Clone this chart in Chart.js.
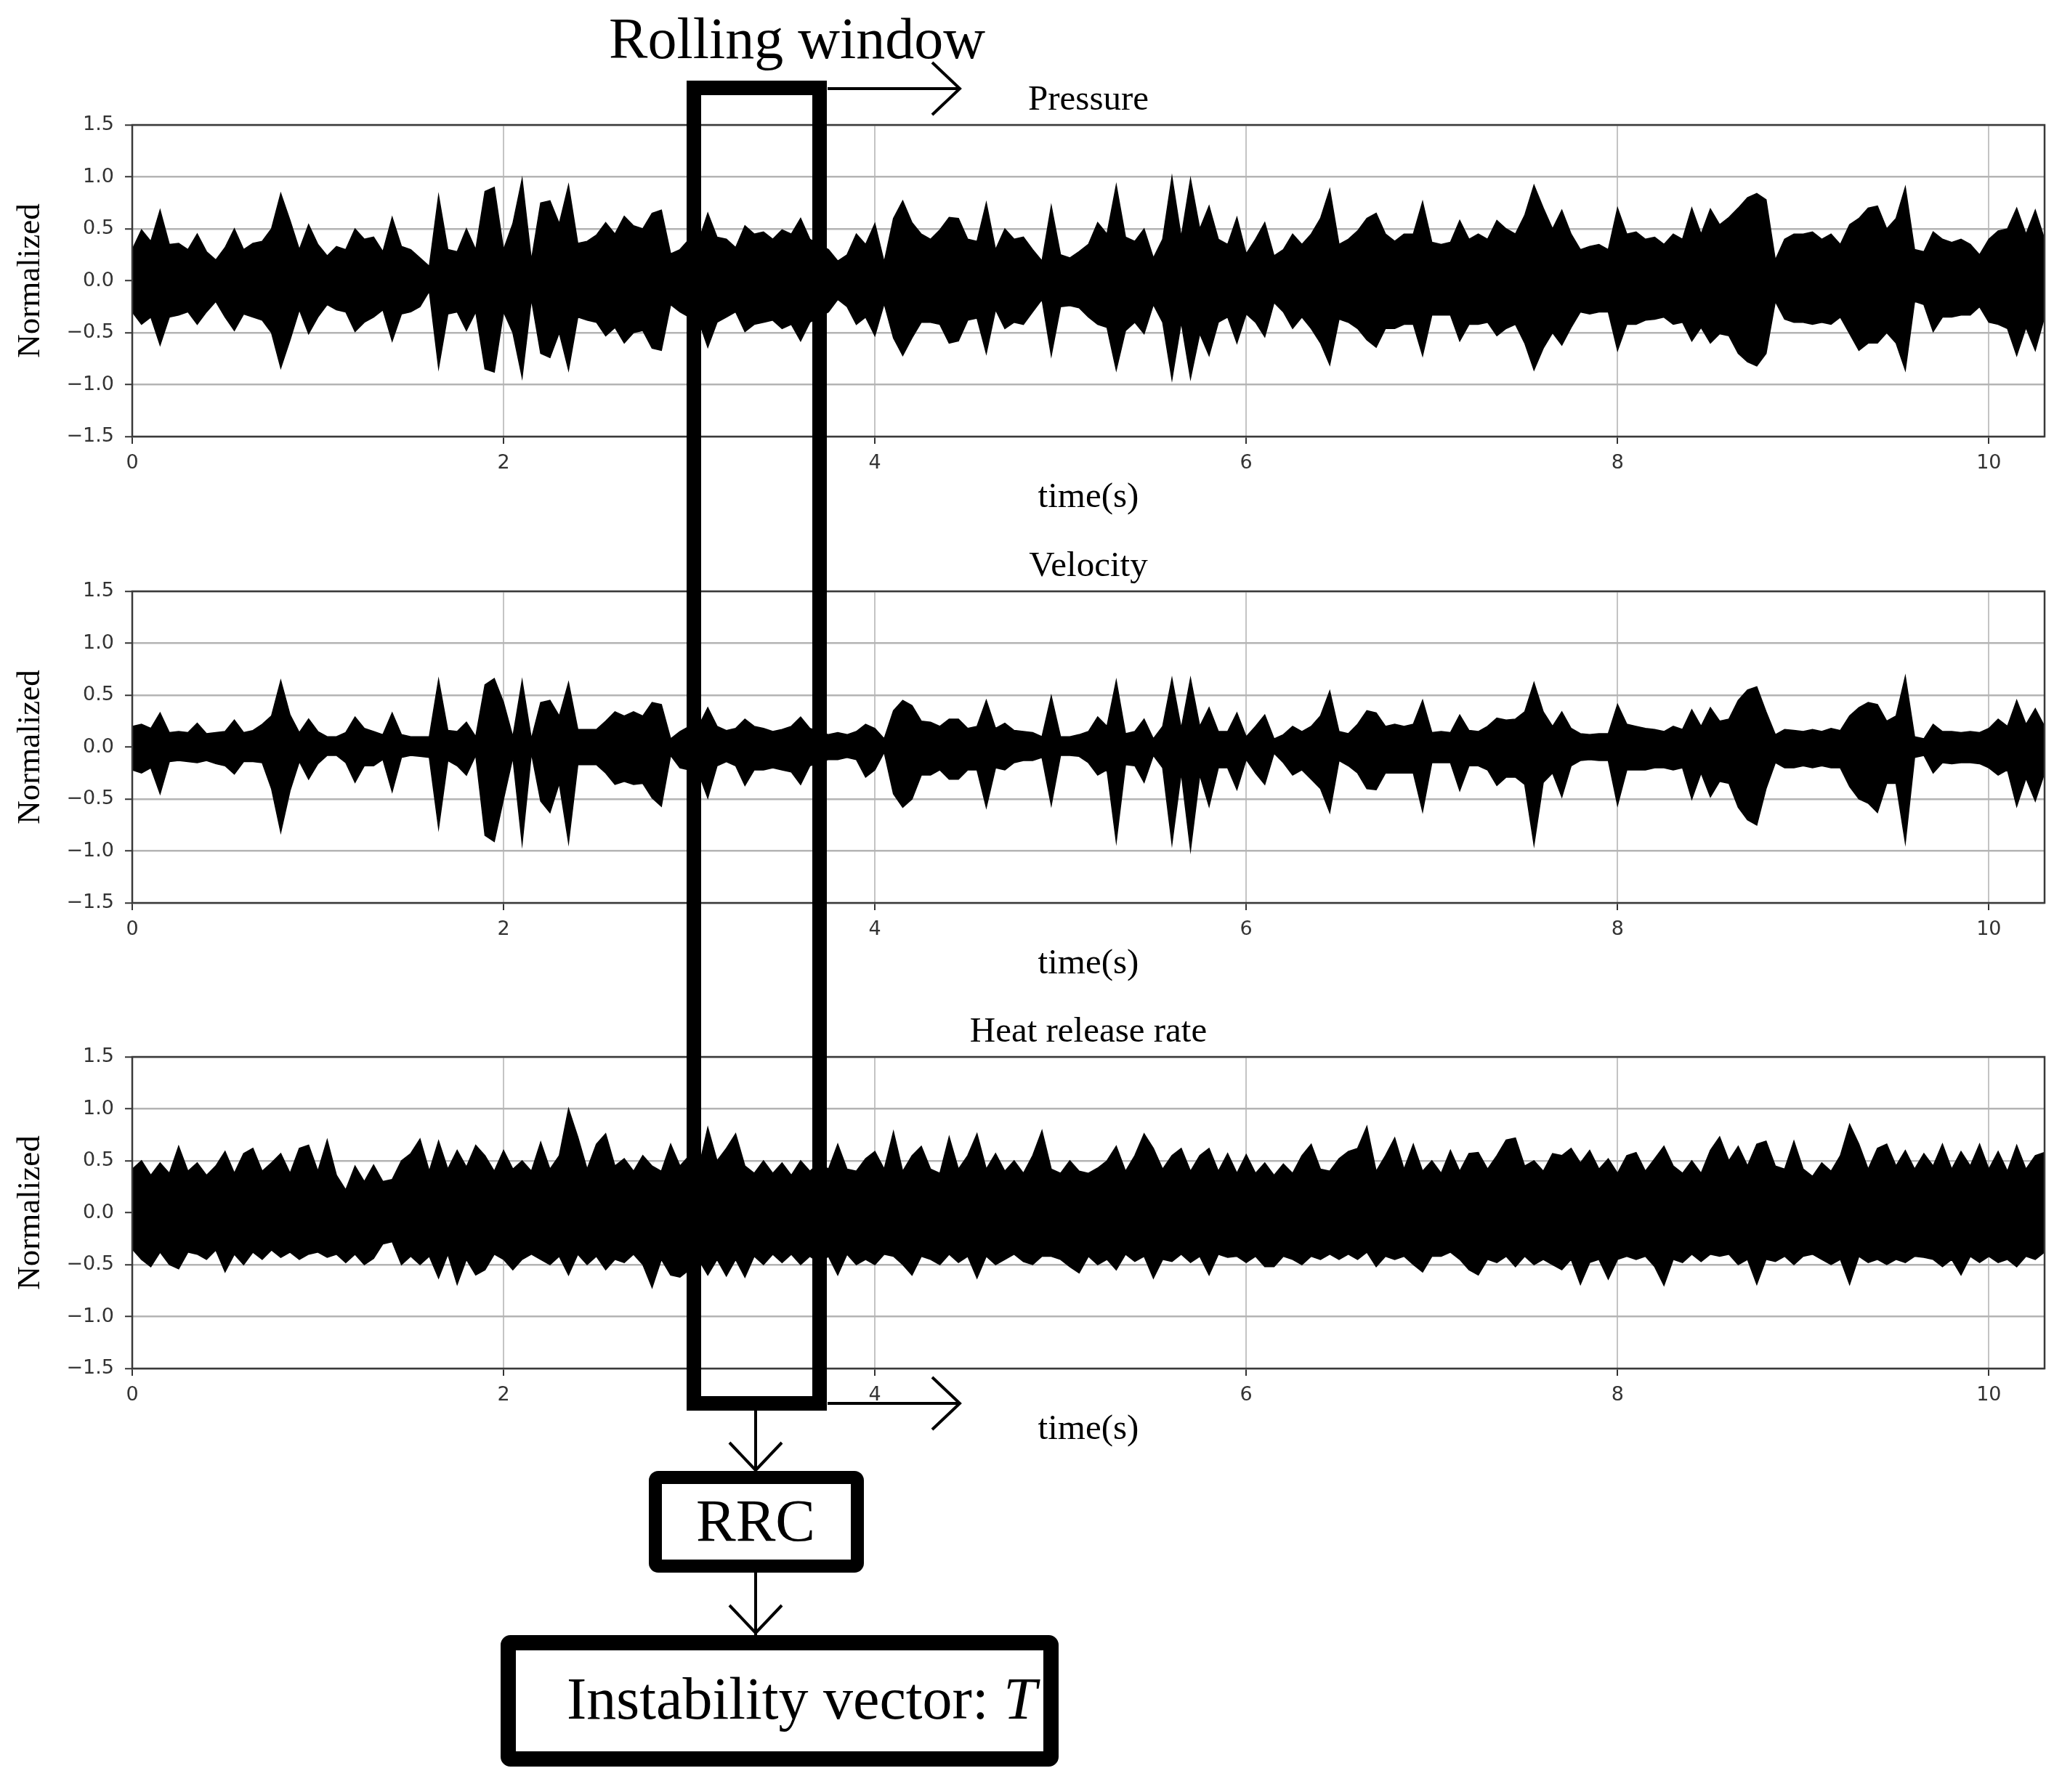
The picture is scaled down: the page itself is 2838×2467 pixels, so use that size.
<!DOCTYPE html>
<html>
<head>
<meta charset="utf-8">
<title>Rolling window over normalized signals</title>
<script src="https://cdn.jsdelivr.net/npm/chart.js@4.4.1/dist/chart.umd.min.js"></script>
<style>
  html, body { margin: 0; padding: 0; background: #fff; }
  #page { position: relative; width: 2838px; height: 2467px; overflow: hidden; background: #fff; }
  #page canvas { position: absolute; left: 0; }
  #diagram { position: absolute; left: 0; top: 0; z-index: 5; pointer-events: none; }
</style>
</head>
<body>
<div id="page">
  <canvas id="pressureChart" width="2838" height="647" style="top:72px"></canvas>
  <canvas id="velocityChart" width="2838" height="647" style="top:714px"></canvas>
  <canvas id="heatChart" width="2838" height="647" style="top:1355px"></canvas>

  <svg id="diagram" width="2838" height="2467" xmlns="http://www.w3.org/2000/svg">
    <g fill="none" stroke="#000">
      <!-- rolling window -->
      <rect x="955" y="121" width="173" height="1811" stroke-width="20"/>
      <path d="M1139 122 H1321" stroke-width="4"/>
      <path d="M1283 86 L1321 122 L1283 158" stroke-width="4"/>
      <path d="M1139 1932 H1321" stroke-width="4"/>
      <path d="M1283 1896 L1321 1932 L1283 1968" stroke-width="4"/>
      <!-- window -> RRC -> instability vector -->
      <path d="M1040 1942 V2025" stroke-width="4"/>
      <path d="M1004 1986 L1040 2024 L1076 1986" stroke-width="4"/>
      <rect x="902" y="2034" width="278" height="122" rx="4" stroke-width="18"/>
      <path d="M1040 2165 V2251" stroke-width="4"/>
      <path d="M1004 2210 L1040 2248 L1076 2210" stroke-width="4"/>
      <rect x="699.5" y="2261.5" width="747" height="160" rx="3" stroke-width="21"/>
    </g>
    <g font-family="'Liberation Serif', 'DejaVu Serif', serif" fill="#000">
      <text x="1097" y="80" font-size="80" text-anchor="middle">Rolling window</text>
      <text x="1040" y="2121" font-size="82" text-anchor="middle">RRC</text>
      <text x="780" y="2366" font-size="82">Instability vector: <tspan font-style="italic">T</tspan></text>
    </g>
  </svg>
</div>

<script>
// ── time axis (s), one sample every 0.05 s ──
const TIME = [
  0, 0.05, 0.1, 0.15, 0.2, 0.25, 0.3, 0.35, 0.4, 0.45, 0.5, 0.55, 0.6, 0.65, 0.7, 0.75, 0.8, 0.85, 0.9, 0.95,
  1, 1.05, 1.1, 1.15, 1.2, 1.25, 1.3, 1.35, 1.4, 1.45, 1.5, 1.55, 1.6, 1.65, 1.7, 1.75, 1.8, 1.85, 1.9, 1.95,
  2, 2.05, 2.1, 2.15, 2.2, 2.25, 2.3, 2.35, 2.4, 2.45, 2.5, 2.55, 2.6, 2.65, 2.7, 2.75, 2.8, 2.85, 2.9, 2.95,
  3, 3.05, 3.1, 3.15, 3.2, 3.25, 3.3, 3.35, 3.4, 3.45, 3.5, 3.55, 3.6, 3.65, 3.7, 3.75, 3.8, 3.85, 3.9, 3.95,
  4, 4.05, 4.1, 4.15, 4.2, 4.25, 4.3, 4.35, 4.4, 4.45, 4.5, 4.55, 4.6, 4.65, 4.7, 4.75, 4.8, 4.85, 4.9, 4.95,
  5, 5.05, 5.1, 5.15, 5.2, 5.25, 5.3, 5.35, 5.4, 5.45, 5.5, 5.55, 5.6, 5.65, 5.7, 5.75, 5.8, 5.85, 5.9, 5.95,
  6, 6.05, 6.1, 6.15, 6.2, 6.25, 6.3, 6.35, 6.4, 6.45, 6.5, 6.55, 6.6, 6.65, 6.7, 6.75, 6.8, 6.85, 6.9, 6.95,
  7, 7.05, 7.1, 7.15, 7.2, 7.25, 7.3, 7.35, 7.4, 7.45, 7.5, 7.55, 7.6, 7.65, 7.7, 7.75, 7.8, 7.85, 7.9, 7.95,
  8, 8.05, 8.1, 8.15, 8.2, 8.25, 8.3, 8.35, 8.4, 8.45, 8.5, 8.55, 8.6, 8.65, 8.7, 8.75, 8.8, 8.85, 8.9, 8.95,
  9, 9.05, 9.1, 9.15, 9.2, 9.25, 9.3, 9.35, 9.4, 9.45, 9.5, 9.55, 9.6, 9.65, 9.7, 9.75, 9.8, 9.85, 9.9, 9.95,
  10, 10.05, 10.1, 10.15, 10.2, 10.25, 10.3
];

const X_TICKS = [0, 2, 4, 6, 8, 10];
const Y_TICKS = [-1.5, -1.0, -0.5, 0.0, 0.5, 1.0, 1.5];

// Pressure: upper / lower edge of the oscillation
const PRESSURE_HI = [
  0.30,0.49,0.38,0.68,0.35,0.36,0.30,0.45,0.28,0.20,0.32,0.50,0.30,0.36,0.38,0.50,0.84,0.58,0.30,0.54,
  0.35,0.24,0.33,0.30,0.50,0.40,0.42,0.28,0.61,0.33,0.30,0.22,0.14,0.82,0.30,0.28,0.50,0.30,0.86,0.90,
  0.30,0.55,0.98,0.20,0.75,0.77,0.55,0.92,0.36,0.38,0.44,0.56,0.45,0.62,0.53,0.50,0.65,0.68,0.26,0.30,
  0.40,0.38,0.65,0.42,0.40,0.32,0.53,0.45,0.47,0.40,0.49,0.45,0.60,0.40,0.35,0.30,0.19,0.25,0.45,0.35,
  0.55,0.18,0.60,0.77,0.56,0.45,0.40,0.49,0.61,0.60,0.40,0.38,0.75,0.30,0.50,0.40,0.42,0.30,0.19,0.72,
  0.25,0.22,0.28,0.35,0.56,0.45,0.92,0.42,0.38,0.50,0.22,0.40,1.00,0.42,0.98,0.50,0.72,0.40,0.35,0.61,
  0.26,0.40,0.56,0.24,0.30,0.45,0.35,0.45,0.60,0.88,0.35,0.40,0.48,0.60,0.65,0.45,0.38,0.45,0.45,0.76,
  0.37,0.35,0.37,0.58,0.40,0.45,0.40,0.58,0.50,0.45,0.63,0.92,0.70,0.50,0.68,0.45,0.30,0.33,0.35,0.30,
  0.70,0.45,0.47,0.40,0.42,0.35,0.45,0.40,0.70,0.45,0.69,0.54,0.61,0.70,0.80,0.84,0.78,0.20,0.40,0.45,
  0.45,0.47,0.40,0.45,0.35,0.54,0.60,0.70,0.72,0.50,0.60,0.90,0.30,0.28,0.47,0.40,0.37,0.40,0.35,0.25,
  0.40,0.48,0.50,0.70,0.45,0.68,0.40
];
const PRESSURE_LO = [
  -0.30,-0.42,-0.35,-0.62,-0.35,-0.33,-0.30,-0.42,-0.30,-0.20,-0.35,-0.48,-0.32,-0.35,-0.38,-0.50,-0.84,-0.57,-0.28,-0.51,
  -0.35,-0.23,-0.28,-0.30,-0.49,-0.40,-0.35,-0.28,-0.58,-0.32,-0.30,-0.25,-0.10,-0.84,-0.32,-0.30,-0.48,-0.30,-0.85,-0.88,
  -0.30,-0.50,-0.93,-0.18,-0.70,-0.74,-0.50,-0.86,-0.35,-0.38,-0.40,-0.53,-0.45,-0.60,-0.50,-0.48,-0.65,-0.67,-0.23,-0.30,
  -0.35,-0.38,-0.64,-0.40,-0.35,-0.30,-0.49,-0.42,-0.40,-0.38,-0.46,-0.42,-0.58,-0.40,-0.35,-0.30,-0.18,-0.25,-0.42,-0.35,
  -0.53,-0.22,-0.55,-0.72,-0.55,-0.40,-0.40,-0.42,-0.60,-0.58,-0.38,-0.36,-0.70,-0.28,-0.46,-0.40,-0.42,-0.30,-0.18,-0.72,
  -0.25,-0.24,-0.26,-0.35,-0.42,-0.45,-0.86,-0.48,-0.40,-0.51,-0.23,-0.40,-0.95,-0.40,-0.94,-0.51,-0.72,-0.40,-0.35,-0.60,
  -0.32,-0.40,-0.54,-0.21,-0.30,-0.46,-0.35,-0.46,-0.60,-0.81,-0.37,-0.40,-0.46,-0.57,-0.64,-0.46,-0.46,-0.42,-0.42,-0.72,
  -0.33,-0.33,-0.33,-0.58,-0.42,-0.42,-0.40,-0.53,-0.46,-0.42,-0.60,-0.86,-0.65,-0.50,-0.62,-0.45,-0.30,-0.32,-0.30,-0.30,
  -0.67,-0.42,-0.42,-0.38,-0.37,-0.35,-0.42,-0.40,-0.58,-0.45,-0.60,-0.51,-0.53,-0.70,-0.78,-0.82,-0.70,-0.20,-0.37,-0.40,
  -0.40,-0.42,-0.40,-0.42,-0.35,-0.51,-0.67,-0.60,-0.60,-0.50,-0.60,-0.86,-0.20,-0.23,-0.49,-0.35,-0.35,-0.33,-0.33,-0.25,
  -0.40,-0.42,-0.46,-0.72,-0.45,-0.67,-0.35
];

// Velocity
const VELOCITY_HI = [
  0.20,0.22,0.18,0.33,0.14,0.15,0.14,0.23,0.13,0.14,0.15,0.26,0.14,0.16,0.22,0.30,0.64,0.31,0.14,0.27,
  0.15,0.10,0.10,0.14,0.29,0.18,0.15,0.12,0.33,0.12,0.10,0.10,0.10,0.65,0.16,0.15,0.24,0.10,0.60,0.66,
  0.43,0.10,0.64,0.08,0.43,0.45,0.30,0.62,0.17,0.17,0.17,0.25,0.34,0.30,0.34,0.30,0.43,0.41,0.08,0.15,
  0.20,0.20,0.38,0.20,0.16,0.18,0.27,0.20,0.18,0.15,0.17,0.20,0.29,0.18,0.15,0.12,0.14,0.12,0.15,0.22,
  0.18,0.08,0.35,0.45,0.40,0.25,0.24,0.20,0.27,0.27,0.18,0.20,0.45,0.18,0.23,0.16,0.15,0.14,0.10,0.49,
  0.10,0.10,0.12,0.15,0.29,0.20,0.64,0.13,0.15,0.27,0.08,0.20,0.66,0.18,0.66,0.20,0.38,0.15,0.15,0.33,
  0.10,0.20,0.31,0.08,0.12,0.20,0.15,0.20,0.30,0.54,0.15,0.13,0.22,0.35,0.33,0.20,0.22,0.20,0.22,0.45,
  0.14,0.15,0.14,0.31,0.16,0.15,0.20,0.28,0.26,0.27,0.34,0.62,0.34,0.20,0.34,0.18,0.13,0.12,0.13,0.13,
  0.41,0.22,0.20,0.18,0.17,0.15,0.20,0.17,0.36,0.20,0.38,0.25,0.27,0.45,0.55,0.58,0.34,0.12,0.17,0.16,
  0.15,0.17,0.15,0.18,0.16,0.30,0.38,0.43,0.41,0.25,0.30,0.68,0.10,0.08,0.22,0.15,0.15,0.14,0.15,0.14,
  0.18,0.27,0.20,0.45,0.22,0.37,0.20
];
const VELOCITY_LO = [
  -0.22,-0.25,-0.20,-0.45,-0.14,-0.13,-0.14,-0.15,-0.13,-0.16,-0.18,-0.26,-0.14,-0.14,-0.15,-0.40,-0.82,-0.42,-0.14,-0.31,
  -0.16,-0.08,-0.08,-0.15,-0.34,-0.18,-0.18,-0.12,-0.43,-0.10,-0.08,-0.09,-0.10,-0.78,-0.13,-0.18,-0.27,-0.08,-0.85,-0.91,
  -0.50,-0.10,-0.93,-0.06,-0.52,-0.63,-0.35,-0.92,-0.17,-0.17,-0.17,-0.25,-0.36,-0.33,-0.36,-0.35,-0.49,-0.57,-0.08,-0.20,
  -0.22,-0.25,-0.49,-0.18,-0.14,-0.18,-0.37,-0.22,-0.22,-0.20,-0.22,-0.24,-0.36,-0.18,-0.15,-0.12,-0.12,-0.10,-0.12,-0.29,
  -0.22,-0.05,-0.45,-0.58,-0.50,-0.27,-0.27,-0.22,-0.31,-0.31,-0.22,-0.22,-0.58,-0.20,-0.22,-0.15,-0.13,-0.13,-0.10,-0.56,
  -0.08,-0.08,-0.09,-0.15,-0.27,-0.22,-0.91,-0.17,-0.18,-0.34,-0.08,-0.20,-0.93,-0.25,-0.99,-0.27,-0.57,-0.20,-0.20,-0.41,
  -0.12,-0.25,-0.36,-0.06,-0.15,-0.27,-0.22,-0.31,-0.40,-0.63,-0.13,-0.18,-0.25,-0.40,-0.41,-0.25,-0.25,-0.25,-0.25,-0.62,
  -0.15,-0.15,-0.15,-0.42,-0.18,-0.18,-0.22,-0.37,-0.29,-0.29,-0.36,-0.94,-0.34,-0.25,-0.48,-0.18,-0.13,-0.12,-0.13,-0.13,
  -0.56,-0.22,-0.22,-0.22,-0.20,-0.20,-0.22,-0.20,-0.50,-0.25,-0.48,-0.33,-0.35,-0.58,-0.70,-0.75,-0.40,-0.15,-0.20,-0.20,
  -0.18,-0.20,-0.18,-0.20,-0.20,-0.38,-0.50,-0.54,-0.63,-0.35,-0.35,-0.92,-0.10,-0.08,-0.25,-0.15,-0.16,-0.15,-0.15,-0.16,
  -0.20,-0.27,-0.22,-0.57,-0.30,-0.52,-0.25
];

// Heat release rate
const HEAT_HI = [
  0.42,0.50,0.36,0.48,0.38,0.64,0.40,0.48,0.36,0.45,0.59,0.38,0.57,0.62,0.40,0.48,0.57,0.38,0.62,0.65,
  0.40,0.70,0.36,0.22,0.45,0.30,0.46,0.30,0.32,0.50,0.57,0.71,0.40,0.69,0.42,0.60,0.44,0.65,0.55,0.40,
  0.60,0.42,0.50,0.40,0.68,0.42,0.55,1.00,0.73,0.42,0.66,0.76,0.45,0.52,0.40,0.55,0.45,0.40,0.66,0.45,
  0.55,0.42,0.82,0.50,0.62,0.76,0.45,0.38,0.50,0.38,0.48,0.36,0.50,0.40,0.48,0.42,0.66,0.42,0.40,0.52,
  0.59,0.42,0.78,0.40,0.55,0.64,0.42,0.38,0.73,0.42,0.55,0.76,0.42,0.57,0.40,0.50,0.38,0.55,0.79,0.42,
  0.38,0.50,0.40,0.38,0.43,0.50,0.64,0.40,0.55,0.76,0.62,0.42,0.55,0.62,0.40,0.55,0.62,0.40,0.57,0.38,
  0.56,0.38,0.48,0.36,0.47,0.38,0.55,0.66,0.42,0.40,0.52,0.59,0.62,0.83,0.40,0.55,0.72,0.42,0.66,0.40,
  0.50,0.38,0.60,0.40,0.57,0.58,0.42,0.55,0.70,0.72,0.45,0.50,0.40,0.57,0.55,0.62,0.48,0.60,0.42,0.52,
  0.38,0.55,0.58,0.40,0.52,0.64,0.45,0.38,0.50,0.38,0.60,0.73,0.50,0.64,0.45,0.66,0.69,0.45,0.42,0.69,
  0.42,0.35,0.48,0.40,0.55,0.85,0.66,0.42,0.62,0.66,0.45,0.60,0.42,0.57,0.45,0.66,0.42,0.59,0.45,0.66,
  0.42,0.59,0.40,0.65,0.42,0.55,0.58
];
const HEAT_LO = [
  -0.35,-0.45,-0.52,-0.38,-0.50,-0.54,-0.38,-0.40,-0.45,-0.36,-0.57,-0.40,-0.50,-0.38,-0.45,-0.36,-0.43,-0.38,-0.45,-0.40,
  -0.38,-0.43,-0.40,-0.48,-0.40,-0.50,-0.44,-0.30,-0.28,-0.50,-0.42,-0.50,-0.42,-0.63,-0.40,-0.69,-0.45,-0.60,-0.55,-0.40,
  -0.45,-0.55,-0.45,-0.40,-0.45,-0.50,-0.42,-0.60,-0.40,-0.50,-0.42,-0.55,-0.45,-0.48,-0.40,-0.50,-0.72,-0.45,-0.60,-0.62,
  -0.55,-0.45,-0.60,-0.45,-0.61,-0.45,-0.62,-0.42,-0.50,-0.40,-0.48,-0.40,-0.50,-0.42,-0.48,-0.42,-0.60,-0.40,-0.50,-0.45,
  -0.50,-0.40,-0.42,-0.50,-0.60,-0.42,-0.45,-0.50,-0.40,-0.48,-0.42,-0.63,-0.42,-0.50,-0.45,-0.40,-0.47,-0.50,-0.42,-0.42,
  -0.45,-0.52,-0.58,-0.42,-0.50,-0.45,-0.55,-0.40,-0.47,-0.42,-0.63,-0.45,-0.47,-0.40,-0.48,-0.42,-0.60,-0.40,-0.43,-0.42,
  -0.48,-0.42,-0.52,-0.52,-0.42,-0.45,-0.50,-0.42,-0.45,-0.40,-0.45,-0.40,-0.45,-0.38,-0.52,-0.42,-0.45,-0.42,-0.50,-0.57,
  -0.42,-0.42,-0.38,-0.45,-0.55,-0.60,-0.45,-0.48,-0.42,-0.52,-0.42,-0.50,-0.45,-0.50,-0.55,-0.45,-0.69,-0.48,-0.45,-0.64,
  -0.45,-0.42,-0.45,-0.42,-0.52,-0.70,-0.45,-0.48,-0.40,-0.47,-0.40,-0.42,-0.40,-0.50,-0.45,-0.69,-0.45,-0.47,-0.42,-0.50,
  -0.42,-0.40,-0.45,-0.50,-0.45,-0.69,-0.42,-0.48,-0.45,-0.50,-0.45,-0.48,-0.42,-0.43,-0.45,-0.52,-0.45,-0.60,-0.42,-0.48,
  -0.42,-0.48,-0.45,-0.52,-0.42,-0.45,-0.38
];

const X_MAX = 10.3;
const SERIF = "'Liberation Serif', 'DejaVu Serif', serif";
const SANS = "'DejaVu Sans', sans-serif";

// matplotlib-style box around the axes
const framePlugin = {
  id: 'frame',
  afterDatasetsDraw(chart) {
    const { ctx, chartArea: a } = chart;
    ctx.save();
    ctx.strokeStyle = '#3a3a3a';
    ctx.lineWidth = 2.5;
    ctx.strokeRect(a.left, a.top, a.right - a.left, a.bottom - a.top);
    ctx.restore();
  }
};

function toPoints(values) {
  return TIME.map((t, i) => ({ x: t, y: values[i] }));
}

function makePanel(canvasId, title, hi, lo) {
  const ctx = document.getElementById(canvasId)?.getContext('2d');
  if (!ctx) return null;

  return new Chart(ctx, {
    type: 'line',
    data: {
      datasets: [
        {
          label: title + ' (lower)',
          data: toPoints(lo),
          borderColor: '#000',
          backgroundColor: '#000',
          borderWidth: 1.5,
          pointRadius: 0,
          fill: false,
          tension: 0
        },
        {
          label: title + ' (upper)',
          data: toPoints(hi),
          borderColor: '#000',
          backgroundColor: '#000',
          borderWidth: 1.5,
          pointRadius: 0,
          fill: '-1', // fill down to the lower edge
          tension: 0
        }
      ]
    },
    options: {
      responsive: false,
      animation: false,
      devicePixelRatio: 1,
      layout: { padding: { left: 0, right: 24, top: 0, bottom: 0 } },
      plugins: {
        legend: { display: false },
        tooltip: { enabled: false },
        title: {
          display: true,
          text: title,
          fullSize: false,
          color: '#000',
          font: { family: SERIF, size: 49, weight: 'normal' },
          padding: { top: 36.6, bottom: 4.6 }
        }
      },
      scales: {
        x: {
          type: 'linear',
          min: 0,
          max: X_MAX,
          afterFit: (s) => { s.height = 118; },
          afterBuildTicks: (s) => { s.ticks = X_TICKS.map(v => ({ value: v })); },
          ticks: {
            color: '#333',
            font: { family: SANS, size: 27 },
            padding: 11,
            maxRotation: 0,
            autoSkip: false,
            callback: (v) => String(v)
          },
          grid: { color: '#c4c4c4', lineWidth: 2, tickLength: 10, tickColor: '#333', tickWidth: 2 },
          border: { display: false },
          title: {
            display: true,
            text: 'time(s)',
            color: '#000',
            font: { family: SERIF, size: 49 },
            padding: { top: 4, bottom: 4 }
          }
        },
        y: {
          min: -1.5,
          max: 1.5,
          afterFit: (s) => { s.width = 182; },
          afterBuildTicks: (s) => { s.ticks = Y_TICKS.map(v => ({ value: v })); },
          ticks: {
            color: '#333',
            font: { family: SANS, size: 27 },
            padding: 15,
            autoSkip: false,
            callback: (v) => (v < 0 ? '\u2212' : '') + Math.abs(v).toFixed(1)
          },
          grid: { color: '#b4b4b4', lineWidth: 2.5, tickLength: 10, tickColor: '#333', tickWidth: 2 },
          border: { display: false },
          title: {
            display: true,
            text: 'Normalized',
            color: '#000',
            font: { family: SERIF, size: 45 },
            padding: { top: 15, bottom: 4 }
          }
        }
      }
    },
    plugins: [framePlugin]
  });
}

makePanel('pressureChart', 'Pressure', PRESSURE_HI, PRESSURE_LO);
makePanel('velocityChart', 'Velocity', VELOCITY_HI, VELOCITY_LO);
makePanel('heatChart', 'Heat release rate', HEAT_HI, HEAT_LO);
</script>
</body>
</html>
